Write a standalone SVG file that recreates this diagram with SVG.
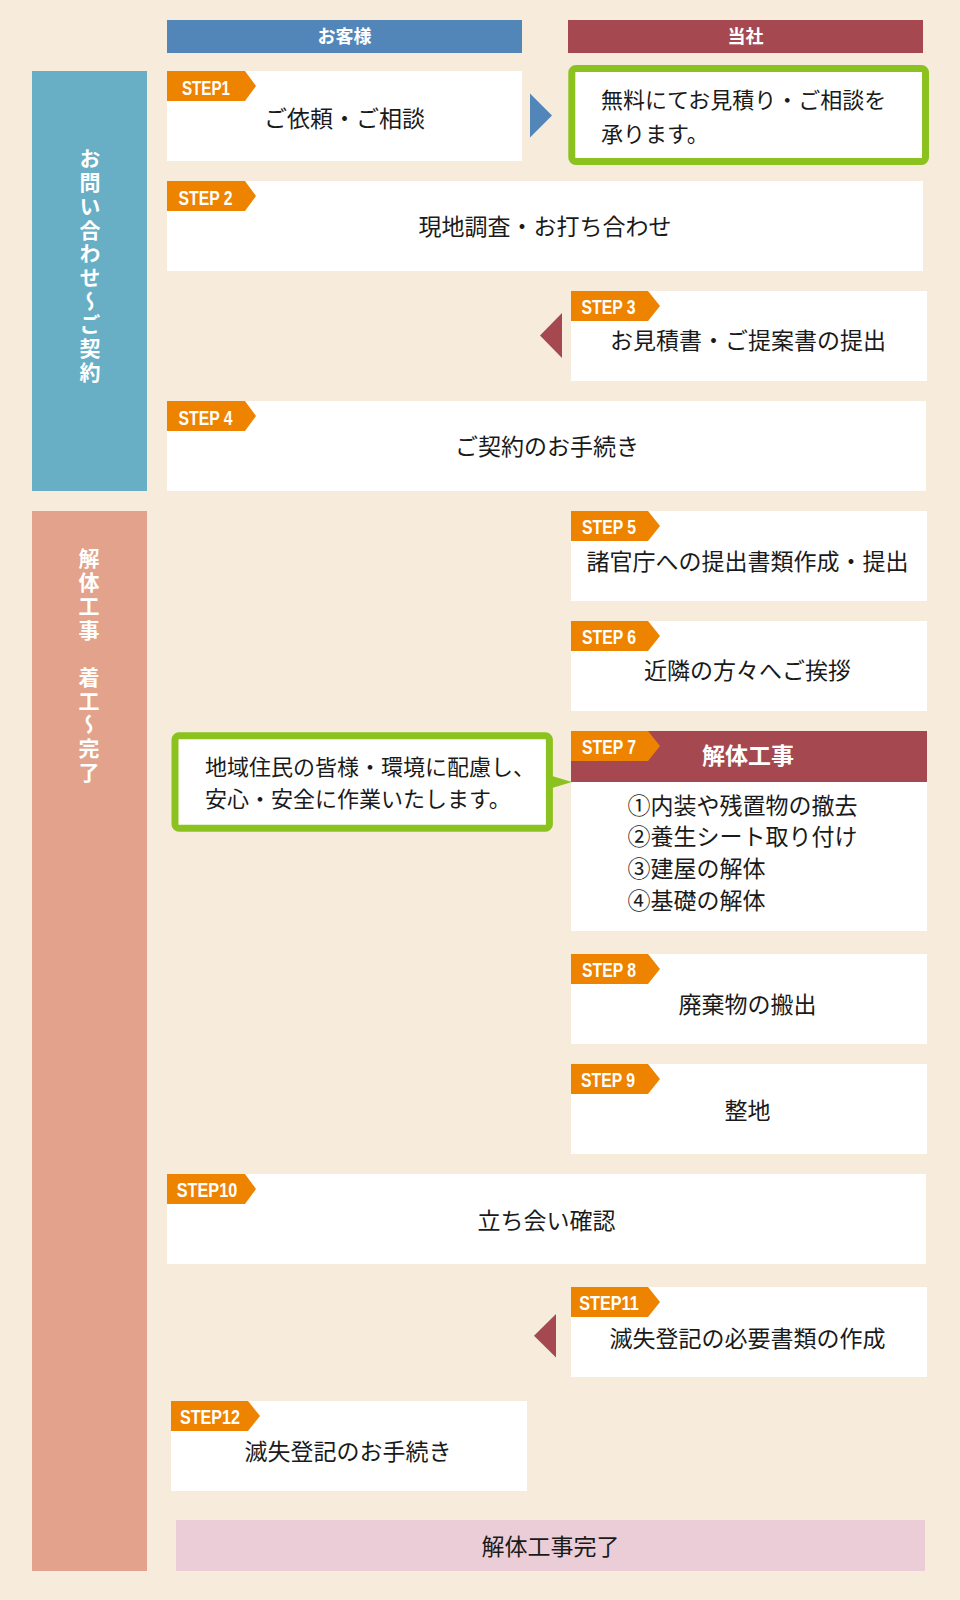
<svg xmlns="http://www.w3.org/2000/svg" width="960" height="1600" viewBox="0 0 960 1600">
<style>
.box{fill:#ffffff}
.tag{fill:#EE8300}
.tagt{font-family:"Liberation Sans",Arial,sans-serif;font-weight:bold;font-size:19.5px;fill:#ffffff;text-anchor:middle}
.t{font-family:"Noto Sans CJK JP","Noto Sans",sans-serif;font-size:23px;fill:#1a1a1a}
.tm{text-anchor:middle}
.c{font-family:"Noto Sans CJK JP","Noto Sans",sans-serif;font-size:22px;fill:#1a1a1a}
.hd{font-family:"Noto Sans CJK JP","Noto Sans",sans-serif;font-size:18px;font-weight:bold;fill:#ffffff;text-anchor:middle}
.vt{font-family:"Noto Sans CJK JP","Noto Sans",sans-serif;font-size:21px;font-weight:bold;fill:#ffffff;writing-mode:vertical-rl;letter-spacing:2.7px}
.gb{fill:#ffffff;stroke:#8CC21F;stroke-width:7}
</style>
<rect x="0" y="0" width="960" height="1600" fill="#F7EBDB"/>

<g id="header-customer">
<rect x="167" y="20" width="355" height="33" fill="#5286B9"/>
<text class="hd" x="344.5" y="43">お客様</text>
</g>
<g id="header-company">
<rect x="568" y="20" width="355" height="33" fill="#A5484F"/>
<text class="hd" x="745.5" y="43">当社</text>
</g>

<g id="phase-contract">
<rect x="32" y="71" width="115" height="420" fill="#68AEC5"/>
<text class="vt" x="90" y="148">お問い合わせ～ご契約</text>
</g>
<g id="phase-work">
<rect x="32" y="511" width="115" height="1060" fill="#E2A28B"/>
<text class="vt" x="89" y="548">解体工事　着工～完了</text>
</g>

<g id="step1">
<rect class="box" x="167" y="71" width="355" height="90"/>
<path class="tag" d="M167,71h78l11,15l-11,15h-78z"/>
<text class="tagt" x="206" y="94.5" textLength="48" lengthAdjust="spacingAndGlyphs">STEP1</text>
<text class="t tm" x="344.5" y="126.7">ご依頼・ご相談</text>
</g>

<g id="reply1">
<rect class="gb" x="571.8" y="68.5" width="353.7" height="93" rx="4"/>
<text class="c" x="601" y="108.4">無料にてお見積り・ご相談を</text>
<text class="c" x="601" y="141.7">承ります。</text>
</g>

<g id="step2">
<rect class="box" x="167" y="181" width="756" height="90"/>
<path class="tag" d="M167,181h78l11,15l-11,15h-78z"/>
<text class="tagt" x="205.5" y="204.5" textLength="54" lengthAdjust="spacingAndGlyphs">STEP 2</text>
<text class="t tm" x="545" y="235.4">現地調査・お打ち合わせ</text>
</g>

<g id="step3">
<rect class="box" x="571" y="291" width="356" height="90"/>
<path class="tag" d="M571,291h77l12,15l-12,15h-77z"/>
<text class="tagt" x="608.5" y="314" textLength="54" lengthAdjust="spacingAndGlyphs">STEP 3</text>
<text class="t tm" x="748" y="349">お見積書・ご提案書の提出</text>
</g>

<g id="step4">
<rect class="box" x="167" y="401" width="759" height="90"/>
<path class="tag" d="M167,401h78l11,15l-11,15h-78z"/>
<text class="tagt" x="205.5" y="424.5" textLength="54" lengthAdjust="spacingAndGlyphs">STEP 4</text>
<text class="t tm" x="547" y="455.4">ご契約のお手続き</text>
</g>

<g id="step5">
<rect class="box" x="571" y="511" width="356" height="90"/>
<path class="tag" d="M571,511h77l12,15l-12,15h-77z"/>
<text class="tagt" x="609" y="533.5" textLength="54" lengthAdjust="spacingAndGlyphs">STEP 5</text>
<text class="t tm" x="747.5" y="569.7">諸官庁への提出書類作成・提出</text>
</g>

<g id="step6">
<rect class="box" x="571" y="621" width="356" height="90"/>
<path class="tag" d="M571,621h77l12,15l-12,15h-77z"/>
<text class="tagt" x="609" y="643.5" textLength="54" lengthAdjust="spacingAndGlyphs">STEP 6</text>
<text class="t tm" x="747.5" y="678.7">近隣の方々へご挨拶</text>
</g>

<g id="step7">
<rect class="box" x="571" y="731" width="356" height="200"/>
<rect x="571" y="731" width="356" height="51" fill="#A5484F"/>
<path class="tag" d="M571,731h77l12,15l-12,15h-77z"/>
<text class="tagt" x="609" y="753.5" textLength="54" lengthAdjust="spacingAndGlyphs">STEP 7</text>
<text class="t tm" x="748" y="763.7" style="fill:#ffffff;font-weight:bold">解体工事</text>
<text class="t" x="627.5" y="813.7">①内装や残置物の撤去</text>
<text class="t" x="627.5" y="845.4">②養生シート取り付け</text>
<text class="t" x="627.5" y="877">③建屋の解体</text>
<text class="t" x="627.5" y="908.7">④基礎の解体</text>
</g>

<g id="note7">
<rect class="gb" x="175" y="735.8" width="374.4" height="92.4" rx="4"/>
<path d="M552,776L572,782L552,788z" fill="#8CC21F"/>
<text class="c" x="205" y="775">地域住民の皆様・環境に配慮し、</text>
<text class="c" x="205" y="806.7">安心・安全に作業いたします。</text>
</g>

<g id="step8">
<rect class="box" x="571" y="954" width="356" height="90"/>
<path class="tag" d="M571,954h77l12,15l-12,15h-77z"/>
<text class="tagt" x="609" y="976.5" textLength="54" lengthAdjust="spacingAndGlyphs">STEP 8</text>
<text class="t tm" x="747.5" y="1013">廃棄物の搬出</text>
</g>

<g id="step9">
<rect class="box" x="571" y="1064" width="356" height="90"/>
<path class="tag" d="M571,1064h77l12,15l-12,15h-77z"/>
<text class="tagt" x="608" y="1086.5" textLength="54" lengthAdjust="spacingAndGlyphs">STEP 9</text>
<text class="t tm" x="747.5" y="1118.7">整地</text>
</g>

<g id="step10">
<rect class="box" x="167" y="1174" width="759" height="90"/>
<path class="tag" d="M167,1174h78l11,15l-11,15h-78z"/>
<text class="tagt" x="207" y="1197" textLength="60.5" lengthAdjust="spacingAndGlyphs">STEP10</text>
<text class="t tm" x="546.5" y="1228.7">立ち会い確認</text>
</g>

<g id="step11">
<rect class="box" x="571" y="1287" width="356" height="90"/>
<path class="tag" d="M571,1287h77l12,15l-12,15h-77z"/>
<text class="tagt" x="609" y="1309.5" textLength="59.5" lengthAdjust="spacingAndGlyphs">STEP11</text>
<text class="t tm" x="747.5" y="1347">滅失登記の必要書類の作成</text>
</g>

<g id="step12">
<rect class="box" x="171" y="1401" width="356" height="90"/>
<path class="tag" d="M171,1401h77l12,15l-12,15h-77z"/>
<text class="tagt" x="210" y="1423.5" textLength="60" lengthAdjust="spacingAndGlyphs">STEP12</text>
<text class="t tm" x="348" y="1460.4">滅失登記のお手続き</text>
</g>

<g id="complete">
<rect x="176" y="1520" width="749" height="51" fill="#EBCDD7"/>
<text class="t tm" x="550.5" y="1555.4">解体工事完了</text>
</g>

<g id="connectors">
<path d="M530,93.5L530,137.5L552,115.5z" fill="#5286B9"/>
<path d="M562,313L562,358L540,335.5z" fill="#A5484F"/>
<path d="M556,1314L556,1357.5L534,1335.7z" fill="#A5484F"/>
</g>
</svg>
